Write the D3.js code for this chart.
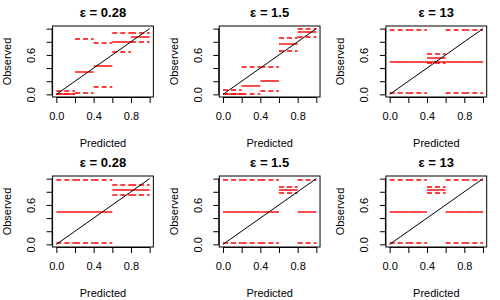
<!DOCTYPE html>
<html>
<head>
<meta charset="utf-8">
<script src="https://cdn.jsdelivr.net/npm/d3@7"></script>
<style>
  body { margin: 0; background: #fff; }
  text { font-family: "Liberation Sans", Arial, Helvetica, sans-serif; }
</style>
</head>
<body>
<svg id="chart"></svg>
<script>
// panel titles (2 rows x 3 cols)
var titles = ["ε = 0.28", "ε = 1.5", "ε = 13", "ε = 0.28", "ε = 1.5", "ε = 13"];

// predicted-probability bins
var binStart = [0.0, 0.2, 0.4, 0.6, 0.8];
var binEnd   = [0.2, 0.4, 0.6, 0.8, 1.0];

// observed mean per bin (solid) and interval (dashed), one row per panel
var obsMean = [
  [0.004, 0.34, 0.427, 0.80, 0.87],
  [0.010, 0.128, 0.209, 0.77, 0.945],
  [0.50, 0.50, 0.548, 0.50, 0.50],
  [0.50, 0.50, 0.50, 0.828, 0.828],
  [0.50, 0.50, 0.50, 0.828, 0.50],
  [0.50, 0.50, 0.828, 0.50, 0.50]
];
var obsLower = [
  [0.0, 0.017, 0.118, 0.65, 0.80],
  [0.0, 0.003, 0.052, 0.665, 0.869],
  [0.025, 0.025, 0.473, 0.025, 0.025],
  [0.025, 0.025, 0.025, 0.752, 0.752],
  [0.025, 0.025, 0.025, 0.777, 0.025],
  [0.025, 0.025, 0.777, 0.025, 0.025]
];
var obsUpper = [
  [0.057, 0.843, 0.777, 0.93, 0.93],
  [0.067, 0.412, 0.412, 0.853, 0.99],
  [0.975, 0.975, 0.615, 0.975, 0.975],
  [0.975, 0.975, 0.975, 0.899, 0.899],
  [0.975, 0.975, 0.975, 0.879, 0.975],
  [0.975, 0.975, 0.879, 0.975, 0.975]
];
// second solid line seen in one bin (top right panel)
var extraMean = [
  [null, null, null, null, null],
  [null, null, null, null, null],
  [null, null, 0.50, null, null],
  [null, null, null, null, null],
  [null, null, null, null, null],
  [null, null, null, null, null]
];

var xTicks = [0, 0.2, 0.4, 0.6, 0.8, 1.0];
var xTickLabels = ["0.0", "", "0.4", "", "0.8", ""];
var yTicks = [0, 0.2, 0.4, 0.6, 0.8, 1.0];
var yTickLabels = ["0.0", "", "", "0.6", "", ""];

var size = { width: 500, height: 300 };
var cellW = size.width / 3, cellH = size.height / 2;
var margin = { top: 26, right: 13.3, bottom: 53, left: 52.6 };
var plotW = cellW - margin.left - margin.right;
var plotH = cellH - margin.top - margin.bottom;

var svg = d3.select("#chart")
  .attr("width", size.width)
  .attr("height", size.height);

// R style 4% padding around [0,1]
var x = d3.scaleLinear().domain([-0.04, 1.04]).range([0, plotW]);
var y = d3.scaleLinear().domain([-0.04, 1.04]).range([plotH, 0]);

// horizontal segments sit between pixel rows, like the antialiased R output
function ySeg(v){ return Math.round(y(v)); }

function hSegs(g, data, key, cls, dash){
  g.selectAll("." + cls)
    .data(data.filter(function(d){ return d[key] != null; }))
    .enter().append("line")
    .attr("class", cls)
    .attr("x1", function(d){ return x(d.x0); })
    .attr("x2", function(d){ return x(d.x1); })
    .attr("y1", function(d){ return ySeg(d[key]); })
    .attr("y2", function(d){ return ySeg(d[key]); })
    .attr("stroke", "#ff0000")
    .attr("stroke-width", 1.4)
    .attr("stroke-dasharray", dash);
}

titles.forEach(function(title, i){
  var col = i % 3, row = Math.floor(i / 3);
  var g = svg.append("g")
    .attr("transform", "translate(" + (col * cellW + margin.left) + "," + (row * cellH + margin.top) + ")");

  // x axis
  var xa = g.append("g")
    .attr("transform", "translate(0," + plotH + ")")
    .call(d3.axisBottom(x).tickValues(xTicks).tickSize(6).tickFormat(function(d, k){ return xTickLabels[k]; }));
  xa.select(".domain").attr("d", "M" + x(0) + ",0.5H" + x(1)).attr("stroke", "#000");
  xa.selectAll(".tick line").attr("stroke", "#000");
  xa.selectAll(".tick text").attr("y", 20).attr("dy", "0.3em")
    .style("font-size", "11px").attr("fill", "#000");

  // y axis
  var ya = g.append("g")
    .call(d3.axisLeft(y).tickValues(yTicks).tickSize(6).tickFormat(function(d, k){ return yTickLabels[k]; }));
  ya.select(".domain").attr("d", "M-0.5," + y(0) + "V" + y(1)).attr("stroke", "#000");
  ya.selectAll(".tick line").attr("stroke", "#000");
  ya.selectAll(".tick text")
    .attr("x", null).attr("dy", null)
    .attr("transform", "translate(-17.6,0) rotate(-90)")
    .attr("text-anchor", "middle")
    .style("font-size", "11px").attr("fill", "#000");

  // bins: mean (solid) and interval (dashed)
  var bins = binStart.map(function(s, k){
    return { x0: s, x1: binEnd[k], m: obsMean[i][k], m2: extraMean[i][k],
             lo: obsLower[i][k], hi: obsUpper[i][k] };
  });

  hSegs(g, bins, "lo", "ci-lo", "5,3");
  hSegs(g, bins, "hi", "ci-hi", "5,3");
  hSegs(g, bins, "m", "mean", null);
  hSegs(g, bins, "m2", "mean2", null);

  // perfect calibration line
  g.append("line")
    .attr("x1", x(0)).attr("y1", y(0))
    .attr("x2", x(1)).attr("y2", y(1))
    .attr("stroke", "#000")
    .attr("stroke-width", 1);

  // box
  g.append("rect")
    .attr("x", 0).attr("y", 0)
    .attr("width", plotW).attr("height", plotH)
    .attr("fill", "none").attr("stroke", "#000");

  // title & labels
  g.append("text")
    .attr("x", plotW / 2).attr("y", -9)
    .attr("text-anchor", "middle")
    .style("font-size", "13px").style("font-weight", "bold")
    .text(title);

  g.append("text")
    .attr("x", plotW / 2).attr("y", plotH + 50)
    .attr("text-anchor", "middle")
    .style("font-size", "11px")
    .text("Predicted");

  g.append("text")
    .attr("transform", "translate(" + (-41.6) + "," + (plotH / 2) + ") rotate(-90)")
    .attr("text-anchor", "middle")
    .style("font-size", "11px")
    .text("Observed");
});
</script>
</body>
</html>
